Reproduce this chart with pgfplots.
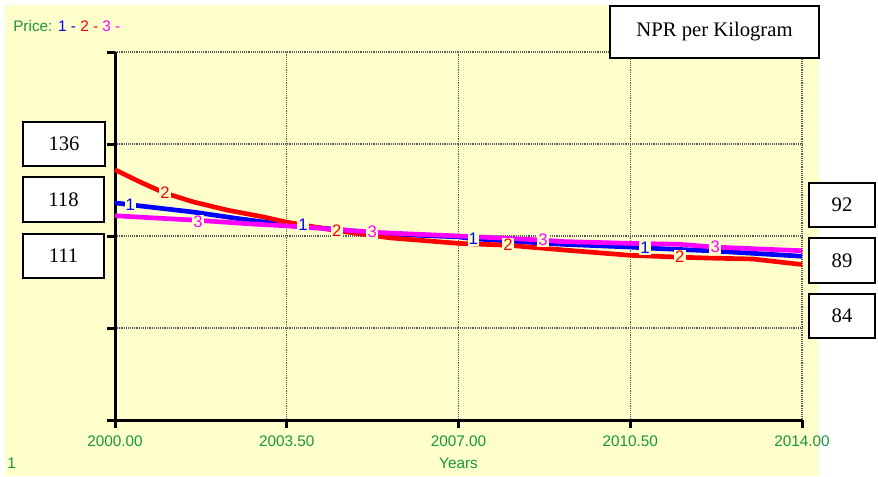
\documentclass[border=0pt]{standalone}
\usepackage{pgfplots}
\usepackage{pgfplotstable}
\pgfplotsset{compat=1.18}
\usepackage{fontspec}
\setmainfont{Liberation Serif}
\newfontfamily\arial{Liberation Sans}

\definecolor{bgyellow}{RGB}{255,255,204}
\definecolor{vgreen}{RGB}{24,150,60}
\definecolor{vmag}{RGB}{255,0,255}

% Price, run 1 (blue)
\pgfplotstableread{
year price
2000.0 118
2000.3 117
2001.6 113
2002.5 109.5
2003.5 106
2005.6 101
2007.0 99.5
2007.3 98.5
2009.1 95.5
2010.5 94
2010.8 93.5
2012.1 92
2014.0 89
}\runone

% Price, run 2 (red)
\pgfplotstableread{
year price
2000.0 136
2000.5 129.5
2001.0 123.5
2001.6 118.5
2002.3 114
2003.0 110.5
2003.5 107.5
2004.5 103
2005.6 99
2007.0 96
2008.0 95
2009.1 92.5
2010.5 89.5
2011.5 88.5
2012.1 88
2013.0 87.5
2014.0 84.5
}\runtwo

% Price, run 3 (magenta)
\pgfplotstableread{
year price
2000.0 111
2001.7 108.5
2002.8 106.5
2003.5 105.5
2005.2 102.2
2005.6 101.6
2007.0 100
2008.7 97.8
2009.1 97
2010.5 96
2011.5 95.5
2012.2 94
2014.0 92
}\runthree

\tikzset{
  vfont/.style={font=\arial\fontsize{11.5}{13}\selectfont},
  clab/.style={font=\arial\fontsize{12.5}{14}\selectfont, fill=bgyellow, inner sep=0.8pt},
  vbox/.style={draw=black, line width=1.5pt, fill=white},
  boxtxt/.style={font=\fontsize{15.5}{18}\selectfont, inner sep=0}
}

\begin{document}
\begin{tikzpicture}
\begin{scope}[x=0.75pt,y=-0.75pt]
  \path[use as bounding box] (0,0) rectangle (878,477);
  \fill[bgyellow] (5,5) rectangle (819,476);
  \node[vfont, anchor=base west, inner sep=0] at (13,32)
    {\textcolor{vgreen}{Price:} \textcolor{blue}{1 -} \textcolor{red}{2 -} \textcolor{vmag}{3 -}};
  \node[vfont, anchor=base west, inner sep=0, text=vgreen] at (7,468) {1};
\end{scope}

\begin{axis}[
  at={(86.25pt,-315pt)}, anchor=south west,
  scale only axis, width=515.25pt, height=276pt,
  xmin=2000, xmax=2014, ymin=0, ymax=200,
  axis x line*=bottom, axis y line*=left,
  axis line style={line width=2.25pt, black},
  xtick={2000,2003.5,2007,2010.5,2014},
  xticklabels={2000.00,2003.50,2007.00,2010.50,2014.00},
  ytick={0,50,100,150,200}, yticklabels={},
  tick align=outside, major tick length=6pt,
  tick style={line width=2.25pt, black},
  grid=major,
  major grid style={densely dotted, line width=1pt, black!65},
  xticklabel style={vfont, text=vgreen, yshift=-2pt},
  xlabel={Years},
  xlabel style={vfont, text=vgreen, at={(axis description cs:0.5,0)}, anchor=base, yshift=-36pt},
  every axis plot/.append style={line width=3.5pt, line join=round, no markers},
  clip=false,
]
  \addplot[blue] table {\runone};
  \addplot[red] table {\runtwo};
  \addplot[vmag] table {\runthree};

  \node[clab, text=blue] at (axis cs:2000.31,116.8) {1};
  \node[clab, text=blue] at (axis cs:2003.83,106.0) {1};
  \node[clab, text=blue] at (axis cs:2007.30,98.4) {1};
  \node[clab, text=blue] at (axis cs:2010.80,93.5) {1};
  \node[clab, text=red] at (axis cs:2001.02,123.4) {2};
  \node[clab, text=red] at (axis cs:2004.52,102.7) {2};
  \node[clab, text=red] at (axis cs:2008.01,95.1) {2};
  \node[clab, text=red] at (axis cs:2011.51,88.6) {2};
  \node[clab, text=vmag] at (axis cs:2001.69,107.6) {3};
  \node[clab, text=vmag] at (axis cs:2005.24,102.2) {3};
  \node[clab, text=vmag] at (axis cs:2008.72,97.8) {3};
  \node[clab, text=vmag] at (axis cs:2012.23,94.0) {3};
\end{axis}

\begin{scope}[x=0.75pt,y=-0.75pt]
  \draw[vbox] (610,6) rectangle (819,58);
  \node[boxtxt] at (714.5,32) {NPR per Kilogram};
  \draw[vbox] (23,122) rectangle (105,166);
  \node[boxtxt] at (64,144) {136};
  \draw[vbox] (23,177) rectangle (104,222);
  \node[boxtxt] at (63.5,199.5) {118};
  \draw[vbox] (23,234) rectangle (104,278);
  \node[boxtxt] at (63.5,256) {111};
  \draw[vbox] (809,183) rectangle (875,227);
  \node[boxtxt] at (842,205) {92};
  \draw[vbox] (809,238) rectangle (875,283);
  \node[boxtxt] at (842,260.5) {89};
  \draw[vbox] (809,294) rectangle (875,338);
  \node[boxtxt] at (842,316) {84};
\end{scope}
\end{tikzpicture}
\end{document}
